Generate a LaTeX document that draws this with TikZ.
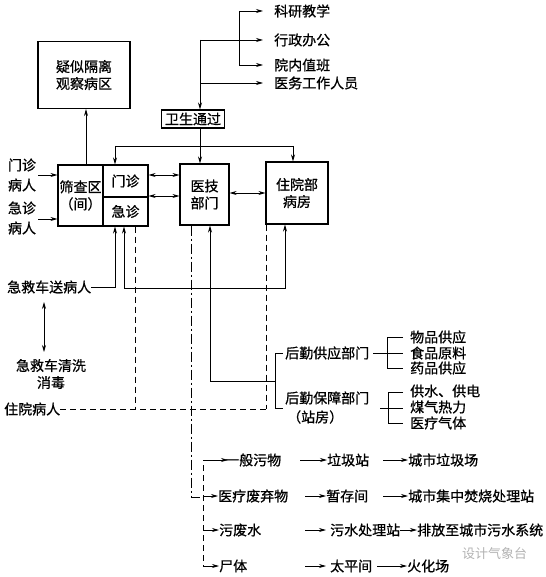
\documentclass[tikz,border=0pt]{standalone}
\usepackage{fontspec}
\newfontfamily\cjk{Noto Sans CJK SC}[FakeBold=0.8]
\newfontfamily\cjkwm{Noto Sans CJK SC}
\usetikzlibrary{arrows.meta}
\tikzset{
  box/.style={draw, line width=1.1pt, inner sep=0pt, align=center},
  lbl/.style={inner sep=0pt, align=center},
  arr/.style={-{Stealth[length=7pt,width=4pt]}, line width=0.7pt},
  darr/.style={{Stealth[length=7pt,width=4pt]}-{Stealth[length=7pt,width=4pt]}, line width=0.7pt},
  ln/.style={line width=0.7pt},
  dsh/.style={line width=0.7pt, dash pattern=on 6pt off 4pt},
  dshdot/.style={line width=0.7pt, dash pattern=on 10pt off 3pt on 2pt off 3pt},
}
\begin{document}
\begin{tikzpicture}[x=1pt,y=-1pt,font=\cjk\fontsize{14}{17}\selectfont]
\useasboundingbox (0,0) rectangle (545,577);
% boxes
\node[box, minimum width=92pt, minimum height=67pt] (iso) at (84,75) {疑似隔离\\观察病区};
\node[box, minimum width=63pt, minimum height=18pt] (wsh) at (193,119) {卫生通过};
\node[box, minimum width=45pt, minimum height=61pt] (scr) at (80.5,195.5) {筛查区\\（间）};
\node[box, minimum width=45pt, minimum height=32pt] (mz) at (125.5,181) {门诊};
\node[box, minimum width=45pt, minimum height=29pt] (jz) at (125.5,211.5) {急诊};
\node[box, minimum width=49pt, minimum height=61pt] (yj) at (204.5,194.5) {医技\\部门};
\node[box, minimum width=62pt, minimum height=62pt] (zy) at (297,193) {住院部\\病房};
% top right labels
\node[lbl, anchor=west] (ky) at (274,11) {科研教学};
\node[lbl, anchor=west] (xz) at (274,40) {行政办公};
\node[lbl, anchor=west] (yn) at (274,65) {院内值班};
\node[lbl, anchor=west] (yw) at (274,83) {医务工作人员};
\draw[arr] (200,40) -- ([xshift=-11pt]xz.west);
\draw[arr] (200,83) -- ([xshift=-11pt]yw.west);
\draw[arr] (200,40) -- (wsh.north -| 200,0);
\draw[arr] (239,11) -- ([xshift=-11pt]ky.west);
\draw[ln] (239,11) -- (239,65);
\draw[arr] (239,65) -- ([xshift=-11pt]yn.west);
% distribution from wsh
\draw[arr] (wsh.south -| 200,0) -- (yj.north -| 200,0);
\draw[ln] (115,146) -- (293,146);
\draw[arr] (115,146) -- (mz.north -| 115,0);
\draw[arr] (293,146) -- (zy.north -| 293,0);
\draw[arr] (scr.north -| 86,0) -- (iso.south -| 86,0);
% left patients
\node[lbl, font=\cjk\fontsize{14}{20}\selectfont] (mzp) at (22,175) {门诊\\病人};
\node[lbl, font=\cjk\fontsize{14}{20}\selectfont] (jzp) at (22,218) {急诊\\病人};
\draw[arr] (38,175) -- (scr.west |- 0,175);
\draw[arr] (38,219) -- (scr.west |- 0,219);
% double arrows between departments
\draw[darr] (mz.east |- 0,175) -- (yj.west |- 0,175);
\draw[darr] (jz.east |- 0,196) -- (yj.west |- 0,196);
\draw[darr] (yj.east |- 0,193) -- (zy.west |- 0,193);
% ambulance
\node[lbl, anchor=west] (amb) at (7,287) {急救车送病人};
\draw[arr] (amb.east) -- (115,287) -- (jz.south -| 115,0);
\draw[arr] (124,288) -- (jz.south -| 124,0);
\draw[arr] (124,288) -- (285,288) -- (zy.south -| 285,0);
\node[lbl] (wash) at (51,374) {急救车清洗\\消毒};
\draw[darr] (44,302) -- (44,352);
% inpatients dashed
\node[lbl, anchor=west] (inp) at (4,409) {住院病人};
\draw[dsh] (inp.east) -- (266,409);
\draw[dsh] (jz.south -| 135,0) -- (135,409);
\draw[dsh] (zy.south -| 266,0) -- (266,409);
% logistics
\node[lbl, anchor=west] (lg1) at (285,353) {后勤供应部门};
\node[lbl, anchor=west] (lg2) at (285,398) {后勤保障部门};
\node[lbl, anchor=west] (lg2b) at (287,417) {（站房）};
\draw[ln] (283,353) -- (275,353) -- (275,408) -- (283,408);
\draw[arr] (275,381) -- (210,381) -- (yj.south -| 210,0);
\node[lbl, anchor=west] (s1) at (410,337) {物品供应};
\node[lbl, anchor=west] (s2) at (410,353) {食品原料};
\node[lbl, anchor=west] (s3) at (410,368) {药品供应};
\draw[ln] (lg1.east) ++(4,0) -- (403,353);
\draw[ln] (403,337) -- (387,337) -- (387,368) -- (403,368);
\node[lbl, anchor=west] (t1) at (410,391) {供水、供电};
\node[lbl, anchor=west] (t2) at (410,407) {煤气热力};
\node[lbl, anchor=west] (t3) at (410,423) {医疗气体};
\draw[ln] (380,408) -- (403,408);
\draw[ln] (403,392) -- (388,392) -- (388,423) -- (403,423);
% waste
\draw[dshdot] (yj.south -| 191,0) -- (191,497) -- (203,497);
\draw[dsh] (208,460) -- (203,460) -- (203,566);
\node[lbl, anchor=west] (w1) at (225,460) {一般污物};
\node[lbl, anchor=west] (w2) at (218,496) {医疗废弃物};
\node[lbl, anchor=west] (w3) at (219,530) {污废水};
\node[lbl, anchor=west] (w4) at (219,566) {尸体};
\draw[arr] (208,460) -- (228,460);
\draw[arr] (203,496) -- (w2.west);
\draw[arr] (203,530) -- (w3.west);
\draw[arr] (203,566) -- (w4.west);
\node[lbl, anchor=west] (a1) at (327,460) {垃圾站};
\node[lbl, anchor=west] (a2) at (326,496) {暂存间};
\node[lbl, anchor=west] (a3) at (330,530) {污水处理站};
\node[lbl, anchor=west] (a4) at (330,566) {太平间};
\draw[arr] (300,460) -- (a1.west);
\draw[arr] (305,496) -- (a2.west);
\draw[arr] (305,530) -- ([xshift=-4pt]a3.west);
\draw[arr] (305,566) -- ([xshift=-4pt]a4.west);
\node[lbl, anchor=west] (b1) at (408,460) {城市垃圾场};
\node[lbl, anchor=west] (b2) at (408,496) {城市集中焚烧处理站};
\node[lbl, anchor=west] (b3) at (417,530) {排放至城市污水系统};
\node[lbl, anchor=west] (b4) at (407,566) {火化场};
\draw[arr] (383,460) -- (b1.west);
\draw[arr] (383,496) -- (b2.west);
\draw[arr] (a3.east) -- (b3.west);
\draw[arr] (377,566) -- (b4.west);
% watermark
\node[lbl, anchor=west, text=black!30, font=\cjkwm\fontsize{13}{15}\selectfont] (wm) at (462,554) {设计气象台};
\end{tikzpicture}
\end{document}
